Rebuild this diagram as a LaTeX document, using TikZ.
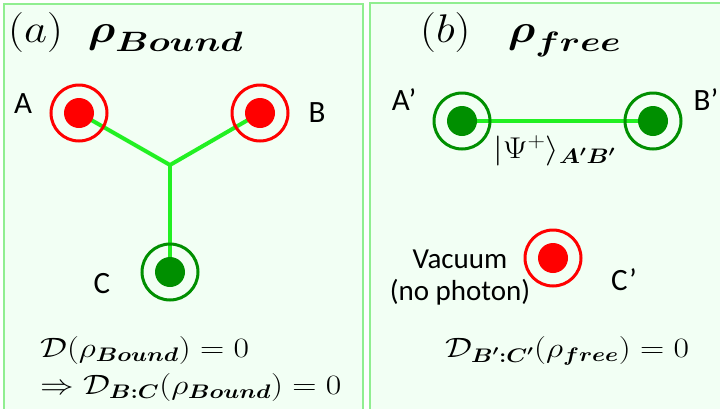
\RequirePackage{fix-cm}
\documentclass[tikz,border=0pt]{standalone}
\usepackage{amsmath}
\usepackage{graphicx}
\usepackage{fontspec}
\newfontfamily\lblfont{Carlito}
\definecolor{qbPanel}{HTML}{F2FFF4}
\definecolor{qbFrame}{HTML}{90EE90}
\definecolor{qbRed}{HTML}{FF0000}
\definecolor{qbGreen}{HTML}{008F00}
\definecolor{qbLink}{HTML}{22F022}
\definecolor{qbText}{HTML}{000000}
% the equation images of the original are a little wider than CM
\newcommand{\hwide}[2]{\scalebox{#1}[1]{#2}}

\begin{document}
\begin{tikzpicture}[
    x=1pt, y=-1pt,
    every node/.style={color=qbText, inner sep=0pt},
    panel/.style={draw=qbFrame, line width=2pt, fill=qbPanel},
    link/.style={qbLink, line width=4pt},
    ring/.style={line width=3pt},
    dot/.style={circle, minimum size=30pt},
    lbl/.style={font=\fontsize{31}{33}\selectfont\lblfont, anchor=base},
    ttl/.style={font=\fontsize{40}{44}\selectfont, anchor=base west},
    eqn/.style={font=\fontsize{28}{30}\selectfont, anchor=base west},
]
\useasboundingbox (0,0) rectangle (720,408);

% ----------------------------------------------------------------------
% Panels
% ----------------------------------------------------------------------
\draw[panel] (4,4) rectangle (363,412);
\draw[panel] (370,3) rectangle (730,412);

\node[ttl] (ta) at (8,42)
    {\hwide{1.12}{$(a)\;\;\boldsymbol{\rho}_{\hwide{1.16}{$\scriptstyle\boldsymbol{Bound}$}}$}};
\node[ttl] (tb) at (420,42)
    {\hwide{1.12}{$(b)\;\;\;\boldsymbol{\rho}_{\hwide{1.16}{$\scriptstyle\boldsymbol{free}$}}$}};

% ----------------------------------------------------------------------
% Photon positions
%   (a): A, B (red), C (green), joined at J
%   (b): A', B' (green) joined, C' (red, vacuum)
% ----------------------------------------------------------------------
\coordinate (A)  at (79,113);
\coordinate (B)  at (260,113);
\coordinate (C)  at (170,272);
\coordinate (J)  at (170,165);
\coordinate (Ap) at (462,121);
\coordinate (Bp) at (653,121);
\coordinate (Cp) at (553,258);

% links first, so the dots sit on top
\draw[link] (A) -- (J) -- (B);
\draw[link] (J) -- (C);
\draw[link] (Ap) -- (Bp);

\foreach \p/\c in {A/qbRed, B/qbRed, C/qbGreen, Ap/qbGreen, Bp/qbGreen, Cp/qbRed} {
    \draw[\c, ring] (\p) circle (28pt);
    \node[dot, fill=\c] (d\p) at (\p) {};
}

% ----------------------------------------------------------------------
% Labels
% ----------------------------------------------------------------------
\node[lbl] (lA)  at (23,113)  {A};
\node[lbl] (lB)  at (317,122) {B};
\node[lbl] (lC)  at (102,293) {C};
\node[lbl] (lAp) at (404,110) {A’};
\node[lbl] (lBp) at (706,110) {B’};
\node[lbl] (lCp) at (624,290) {C’};
\node[font=\fontsize{29}{32}\selectfont\lblfont, align=center, anchor=base]
    (vac) at (460,300) {Vacuum\\(no photon)};

\node[font=\fontsize{30}{32}\selectfont, anchor=base west]
    (psi) at (493,158) {\hwide{1.15}{$|\Psi^{+}\rangle_{\boldsymbol{A'B'}}$}};

% ----------------------------------------------------------------------
% Discord statements
% ----------------------------------------------------------------------
\node[eqn] (ea) at (40,357)
    {\hwide{1.2}{$\mathcal{D}(\rho_{\boldsymbol{Bound}})=0$}};
\node[eqn] (eb) at (40,394)
    {\hwide{1.2}{$\Rightarrow\mathcal{D}_{\boldsymbol{B:C}}(\rho_{\boldsymbol{Bound}})=0$}};
\node[eqn] (ec) at (445,357)
    {\hwide{1.2}{$\mathcal{D}_{\boldsymbol{B':C'}}(\rho_{\boldsymbol{free}})=0$}};

\end{tikzpicture}
\end{document}
